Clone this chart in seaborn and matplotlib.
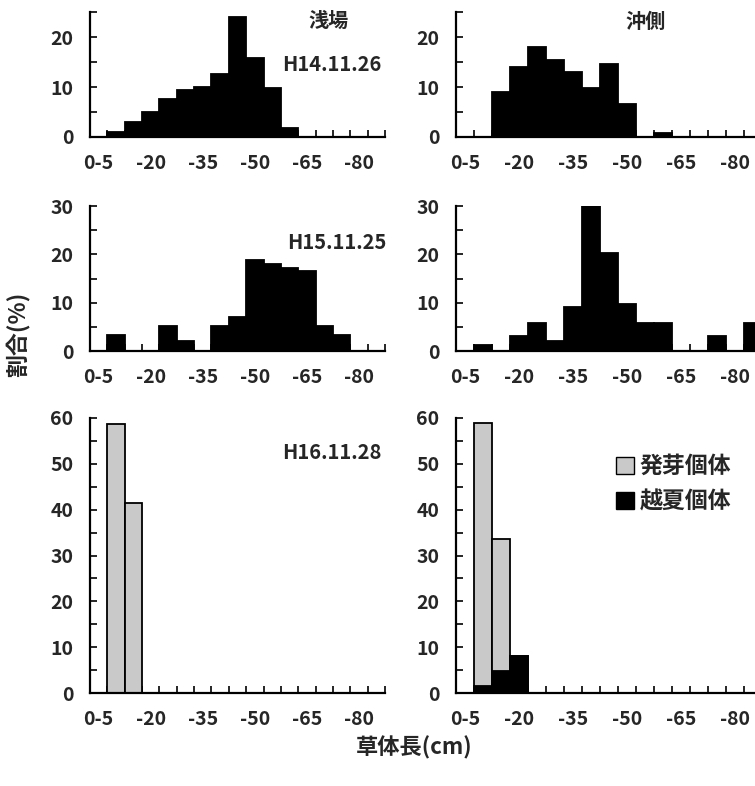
import matplotlib
matplotlib.use("Agg")
import matplotlib.pyplot as plt
from matplotlib.patches import Patch
from matplotlib.ticker import MultipleLocator
import seaborn as sns
import pandas as pd
import numpy as np

# size classes (cm)
bin_labels = ["0-5", "-10", "-15", "-20", "-25", "-30", "-35", "-40", "-45",
              "-50", "-55", "-60", "-65", "-70", "-75", "-80", "-85"]
shown_labels = ["0-5", "-20", "-35", "-50", "-65", "-80"]

# percent of individuals per class
h14_shallow = [0, 1.0, 3.0, 5.1, 7.6, 9.4, 10.1, 12.6, 24.0, 15.8, 9.8, 1.8, 0, 0, 0, 0, 0]
h14_offshore = [0, 0, 9.0, 14.0, 18.0, 15.4, 13.0, 9.8, 14.7, 6.6, 0, 0.8, 0, 0, 0, 0, 0]
h15_shallow = [0, 3.4, 0, 0, 5.2, 2.0, 0, 5.2, 7.0, 18.8, 18.0, 17.2, 16.6, 5.2, 3.4, 0, 0]
h15_offshore = [0, 1.3, 0, 3.1, 5.9, 2.0, 9.1, 30.5, 20.3, 9.7, 5.9, 5.9, 0, 0, 3.1, 0, 5.9]
h16_shallow_germ = [0, 58.6, 41.4, 0, 0, 0, 0, 0, 0, 0, 0, 0, 0, 0, 0, 0, 0]
h16_shallow_summer = [0] * 17
h16_offshore_germ = [0, 57.5, 28.7, 0, 0, 0, 0, 0, 0, 0, 0, 0, 0, 0, 0, 0, 0]
h16_offshore_summer = [0, 1.5, 4.8, 8.1, 0, 0, 0, 0, 0, 0, 0, 0, 0, 0, 0, 0, 0]

GRAY = "#c9c9c9"

sns.set_style("ticks")
plt.rcParams["font.family"] = ["Noto Sans CJK JP", "DejaVu Sans"]
plt.rcParams["font.weight"] = "bold"


def bars(ax, values, color, edge=None):
    df = pd.DataFrame({"bin": bin_labels, "pct": values})
    sns.barplot(data=df, x="bin", y="pct", order=bin_labels, color=color,
                saturation=1, width=1.0, edgecolor=edge if edge else color,
                linewidth=1.3, ax=ax)


def style_axis(ax, ymax):
    ax.set_xlim(-0.5, 16.5)
    ax.set_ylim(0, ymax)
    ax.set_xlabel("")
    ax.set_ylabel("")
    sns.despine(ax=ax)
    for s in ["left", "bottom"]:
        ax.spines[s].set_linewidth(1.6)
        ax.spines[s].set_color("black")
    ax.set_xticks(np.arange(0, 16, 3))
    ax.set_xticklabels(shown_labels, fontsize=14, fontweight="bold")
    ax.set_xticks(np.arange(0.5, 17, 1), minor=True)
    ax.tick_params(axis="x", which="major", length=0, pad=12)
    ax.tick_params(axis="x", which="minor", direction="in", length=5, width=1.4)
    ax.yaxis.set_major_locator(MultipleLocator(10))
    ax.yaxis.set_minor_locator(MultipleLocator(5))
    ax.tick_params(axis="y", which="both", direction="in", length=5, width=1.4, pad=12)
    for t in ax.get_yticklabels():
        t.set_fontsize(14)
        t.set_fontweight("bold")


fig = plt.figure(figsize=(7.55, 7.86), dpi=100)

col_x = [(0.1192, 0.3907), (0.604, 0.4053)]
row_y = [(0.8257, 0.159), (0.5534, 0.1845), (0.1183, 0.3499)]

axes = [[fig.add_axes([cx, ry, cw, rh]) for (cx, cw) in col_x] for (ry, rh) in row_y]

bars(axes[0][0], h14_shallow, "black")
bars(axes[0][1], h14_offshore, "black")
bars(axes[1][0], h15_shallow, "black")
bars(axes[1][1], h15_offshore, "black")

for ax, germ, summer in [(axes[2][0], h16_shallow_germ, h16_shallow_summer),
                         (axes[2][1], h16_offshore_germ, h16_offshore_summer)]:
    total = list(np.array(germ) + np.array(summer))
    bars(ax, total, GRAY, edge="black")
    bars(ax, summer, "black", edge="black")

for ax in axes[0]:
    style_axis(ax, 25)
for ax in axes[1]:
    style_axis(ax, 30)
for ax in axes[2]:
    style_axis(ax, 60)

txt = dict(ha="center", va="center", fontweight="bold")
axes[0][0].text(0.81, 0.936, "浅場", transform=axes[0][0].transAxes, fontsize=14.5, **txt)
axes[0][0].text(0.82, 0.584, "H14.11.26", transform=axes[0][0].transAxes, fontsize=14.5, **txt)
axes[0][1].text(0.618, 0.928, "沖側", transform=axes[0][1].transAxes, fontsize=14.5, **txt)
axes[1][0].text(0.837, 0.745, "H15.11.25", transform=axes[1][0].transAxes, fontsize=14.5, **txt)
axes[2][0].text(0.82, 0.876, "H16.11.28", transform=axes[2][0].transAxes, fontsize=14.5, **txt)

handles = [Patch(facecolor=GRAY, edgecolor="black", label="発芽個体"),
           Patch(facecolor="black", edgecolor="black", label="越夏個体")]
axes[2][1].legend(handles=handles, loc="upper left", bbox_to_anchor=(0.457, 0.94),
                  frameon=False, handlelength=0.75, handleheight=0.75,
                  handletextpad=0.25, labelspacing=0.55,
                  prop={"size": 16.5, "weight": "bold"})

fig.text(0.024, 0.575, "割合(%)", rotation=90, ha="center", va="center",
         fontsize=16.5, fontweight="bold")
fig.text(0.548, 0.049, "草体長(cm)", ha="center", va="center",
         fontsize=16, fontweight="bold")

fig.savefig("out.png", dpi=100)
